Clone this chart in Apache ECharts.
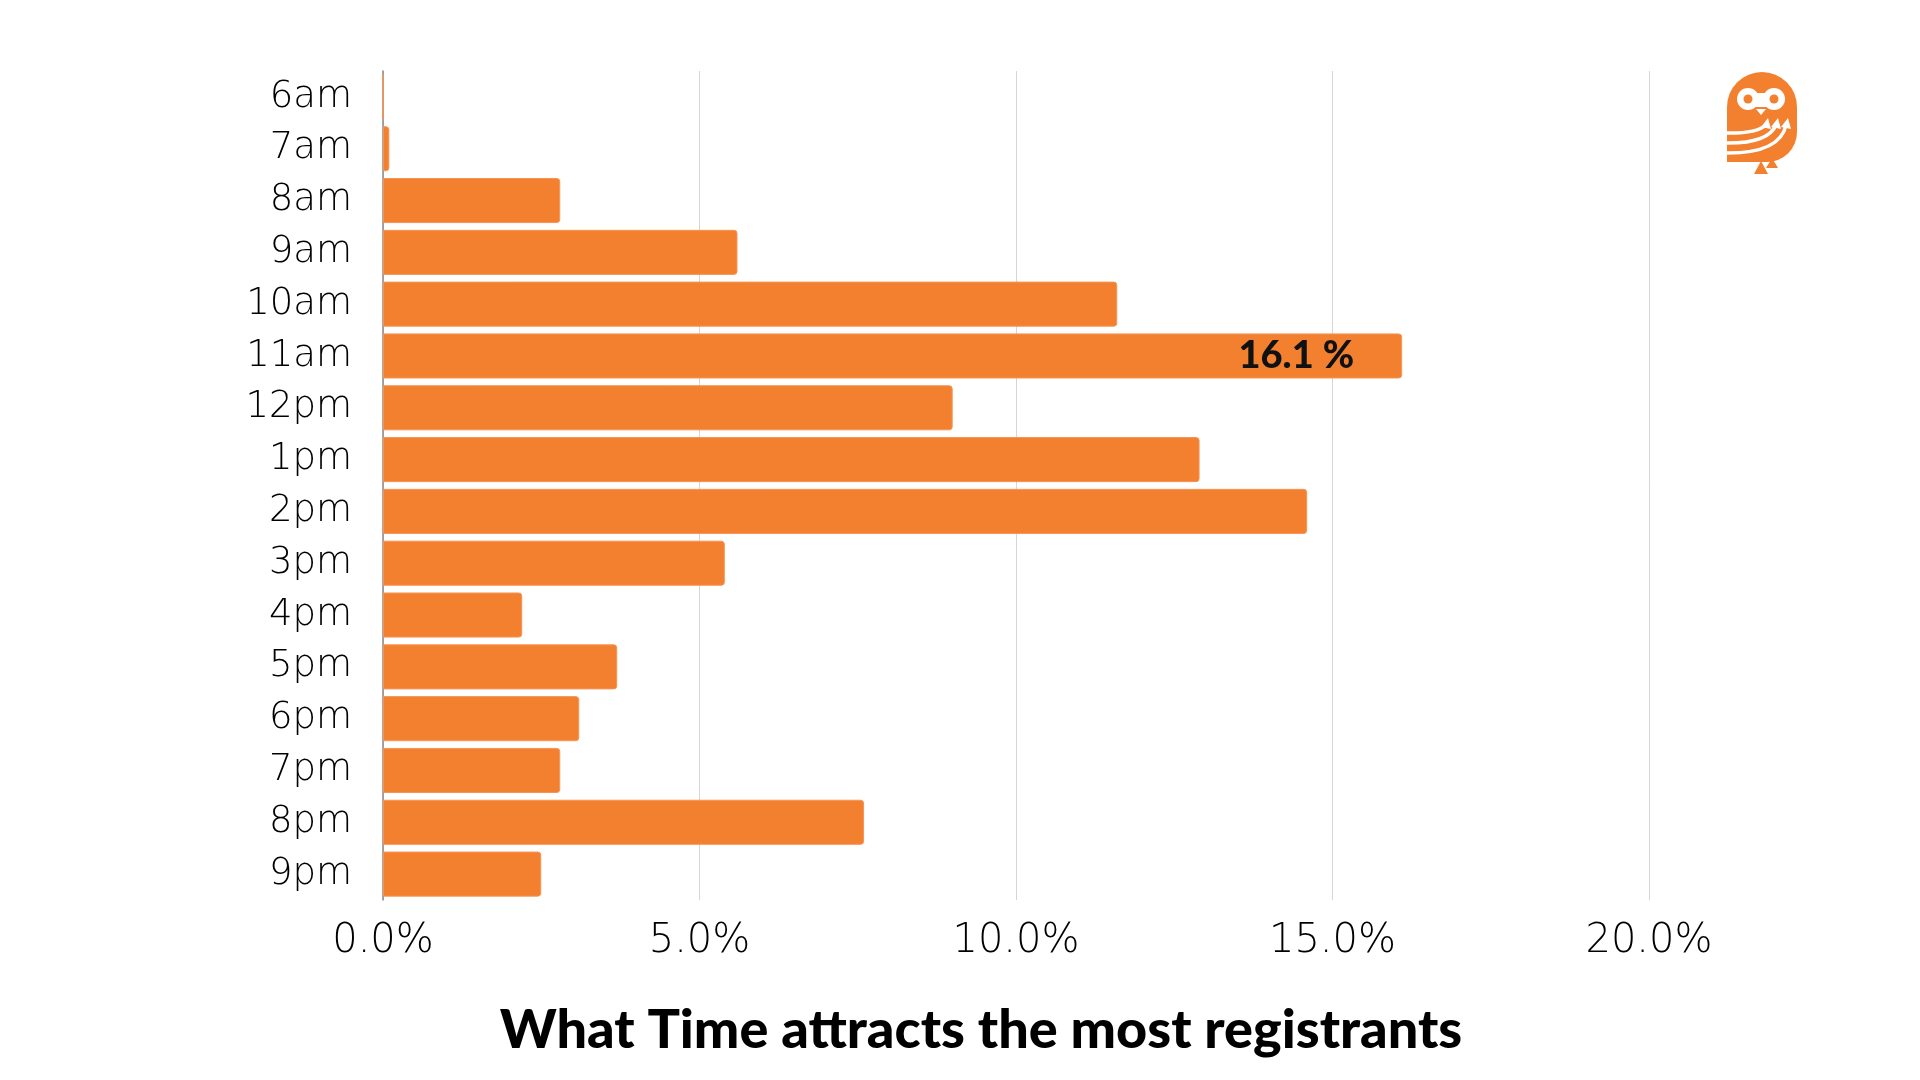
<!DOCTYPE html>
<html>
<head>
<meta charset="utf-8">
<script src="https://cdn.jsdelivr.net/npm/echarts@6/dist/echarts.min.js"></script>
<style>
html,body{margin:0;padding:0;background:#fff;}
#chart{width:1920px;height:1080px;}
</style>
</head>
<body>
<div id="chart"></div>
<script>
const categories = ['6am','7am','8am','9am','10am','11am','12pm','1pm','2pm','3pm','4pm','5pm','6pm','7pm','8pm','9pm'];
const shares = [0, 0.1, 2.8, 5.6, 11.6, 16.1, 9.0, 12.9, 14.6, 5.4, 2.2, 3.7, 3.1, 2.8, 7.6, 2.5];
const labelledCategory = '11am';
const xTicks = [0, 5, 10, 15, 20];
const titleText = 'What Time attracts the most registrants';

const chart = echarts.init(document.getElementById('chart'), null, {renderer:'canvas'});
const orange = '#F3802F';
const axisFont = '"DejaVu Sans", Lato, sans-serif';

const seriesData = shares.map((v, i) => ({
  value: v,
  label: { show: categories[i] === labelledCategory }
}));

const logo = [
  { type: 'circle', shape: { cx: 1762, cy: 107, r: 35 }, style: { fill: orange } },
  { type: 'rect', shape: { x: 1727, y: 107, width: 70, height: 55, r: [0, 0, 30, 0] }, style: { fill: orange } },
  { type: 'polygon', shape: { points: [[1754,174],[1761,161],[1768,174]] }, style: { fill: orange } },
  { type: 'polygon', shape: { points: [[1766,168],[1772,158],[1778,168]] }, style: { fill: orange } },
  { type: 'circle', shape: { cx: 1748, cy: 99, r: 11 }, style: { fill: '#fff' } },
  { type: 'circle', shape: { cx: 1774, cy: 99, r: 11 }, style: { fill: '#fff' } },
  { type: 'rect', shape: { x: 1748, y: 93, width: 26, height: 14 }, style: { fill: '#fff' } },
  { type: 'circle', shape: { cx: 1748, cy: 99, r: 4.5 }, style: { fill: orange } },
  { type: 'circle', shape: { cx: 1774, cy: 99, r: 4.5 }, style: { fill: orange } },
  { type: 'polygon', shape: { points: [[1756,109],[1766,109],[1761,115]] }, style: { fill: '#fff' } },
  { type: 'bezierCurve', shape: { x1: 1724, y1: 133, x2: 1766, y2: 125, cpx1: 1756, cpy1: 134 }, style: { stroke: '#fff', lineWidth: 3.5, fill: null } },
  { type: 'bezierCurve', shape: { x1: 1724, y1: 143, x2: 1776, y2: 125, cpx1: 1768, cpy1: 144 }, style: { stroke: '#fff', lineWidth: 3.5, fill: null } },
  { type: 'bezierCurve', shape: { x1: 1724, y1: 153, x2: 1786, y2: 125, cpx1: 1780, cpy1: 154 }, style: { stroke: '#fff', lineWidth: 3.5, fill: null } },
  { type: 'polygon', shape: { points: [[1761,127],[1768,118],[1771,129]] }, style: { fill: '#fff' } },
  { type: 'polygon', shape: { points: [[1771,127],[1778,118],[1781,129]] }, style: { fill: '#fff' } },
  { type: 'polygon', shape: { points: [[1781,127],[1788,118],[1791,129]] }, style: { fill: '#fff' } }
];

chart.setOption({
  animation: false,
  backgroundColor: '#ffffff',
  grid: { left: 383, right: 271, top: 71, bottom: 180, containLabel: false },
  xAxis: {
    type: 'value',
    min: xTicks[0], max: xTicks[xTicks.length-1], interval: xTicks[1]-xTicks[0],
    axisLine: { show: false },
    axisTick: { show: false },
    splitLine: { show: true, lineStyle: { color: '#d6d6d6', width: 1 } },
    axisLabel: {
      formatter: v => v.toFixed(1) + '%',
      fontFamily: axisFont, fontWeight: 300, fontSize: 40, color: '#000', margin: 22
    }
  },
  yAxis: {
    type: 'category',
    data: categories,
    inverse: true,
    axisLine: { show: true, lineStyle: { color: '#8a8a8a', width: 1.5 } },
    axisTick: { show: false },
    axisLabel: { fontFamily: axisFont, fontWeight: 300, fontSize: 37, color: '#000', margin: 31, padding: [0, 0, 7, 0] }
  },
  series: [{
    type: 'bar',
    data: seriesData,
    barCategoryGap: '13%',
    itemStyle: { color: orange, borderRadius: [0, 3, 3, 0], borderColor: '#F79454', borderWidth: 1 },
    label: {
      show: false,
      position: 'insideRight',
      distance: 48,
      formatter: p => p.value.toFixed(1) + ' %',
      fontFamily: 'Lato', fontWeight: 900, fontSize: 38, color: '#111'
    }
  }],
  graphic: [
    {
      type: 'text',
      x: 981, y: 1031,
      style: { text: titleText, fontFamily: 'Lato', fontWeight: 900, fontSize: 54, fill: '#000', align: 'center', verticalAlign: 'middle' }
    }
  ].concat(logo)
});
</script>
</body>
</html>
